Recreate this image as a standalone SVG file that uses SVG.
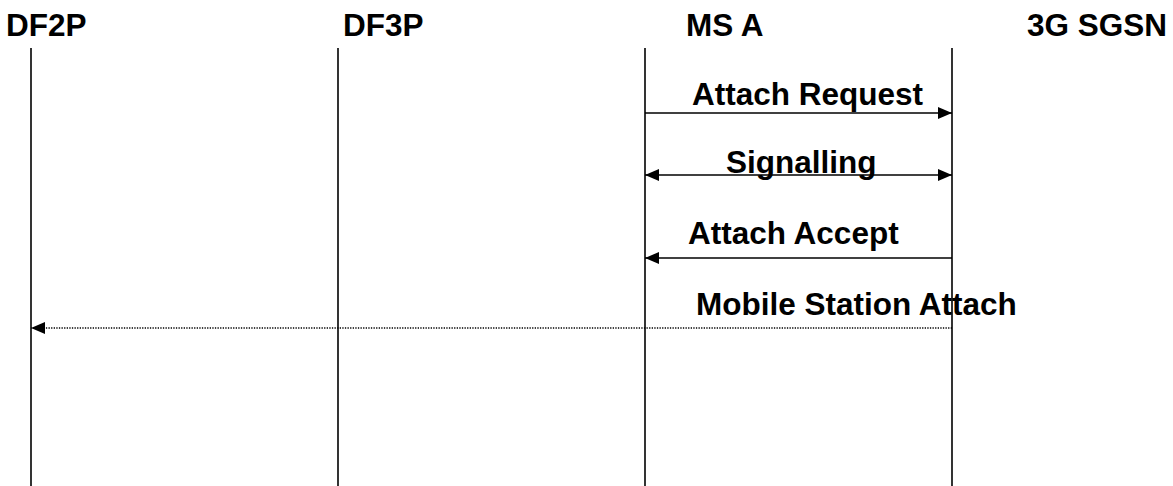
<svg xmlns="http://www.w3.org/2000/svg" width="1173" height="486" viewBox="0 0 1173 486">
<style>
.t{font-family:"Liberation Sans",Arial,sans-serif;font-weight:bold;font-size:31.5px;fill:#000}
.ll{stroke:#000;stroke-width:1.6;fill:none}
.m{stroke:#000;stroke-width:1.6;fill:none}
.d{stroke:#000;stroke-width:1.3;fill:none;stroke-dasharray:1.3 1.3}
</style>
<defs>
<marker id="ah" viewBox="0 0 14 12" refX="14" refY="6" markerWidth="14" markerHeight="12" markerUnits="userSpaceOnUse" orient="auto-start-reverse">
<path d="M0,0 L14,6 L0,12 Z" fill="#000"/>
</marker>
</defs>
<rect width="1173" height="486" fill="#fff"/>
<g id="DF2P"><text class="t" x="6" y="36">DF2P</text><line class="ll" x1="31" y1="48" x2="31" y2="486"/></g>
<g id="DF3P"><text class="t" x="343" y="36">DF3P</text><line class="ll" x1="338" y1="48" x2="338" y2="486"/></g>
<g id="MSA"><text class="t" x="686" y="36">MS A</text><line class="ll" x1="645" y1="48" x2="645" y2="486"/></g>
<g id="SGSN"><text class="t" x="1027" y="36">3G SGSN</text><line class="ll" x1="952" y1="48" x2="952" y2="486"/></g>
<g id="connectors">
<text class="t" x="692" y="105">Attach Request</text>
<line class="m" x1="645" y1="113" x2="952" y2="113" marker-end="url(#ah)"/>
<text class="t" x="726" y="173">Signalling</text>
<line class="m" x1="645" y1="175" x2="952" y2="175" marker-start="url(#ah)" marker-end="url(#ah)"/>
<text class="t" x="688" y="244">Attach Accept</text>
<line class="m" x1="952" y1="258" x2="645" y2="258" marker-end="url(#ah)"/>
<text class="t" x="696" y="315">Mobile Station Attach</text>
<line class="d" x1="952" y1="328" x2="31" y2="328" marker-end="url(#ah)"/>
</g>
</svg>
